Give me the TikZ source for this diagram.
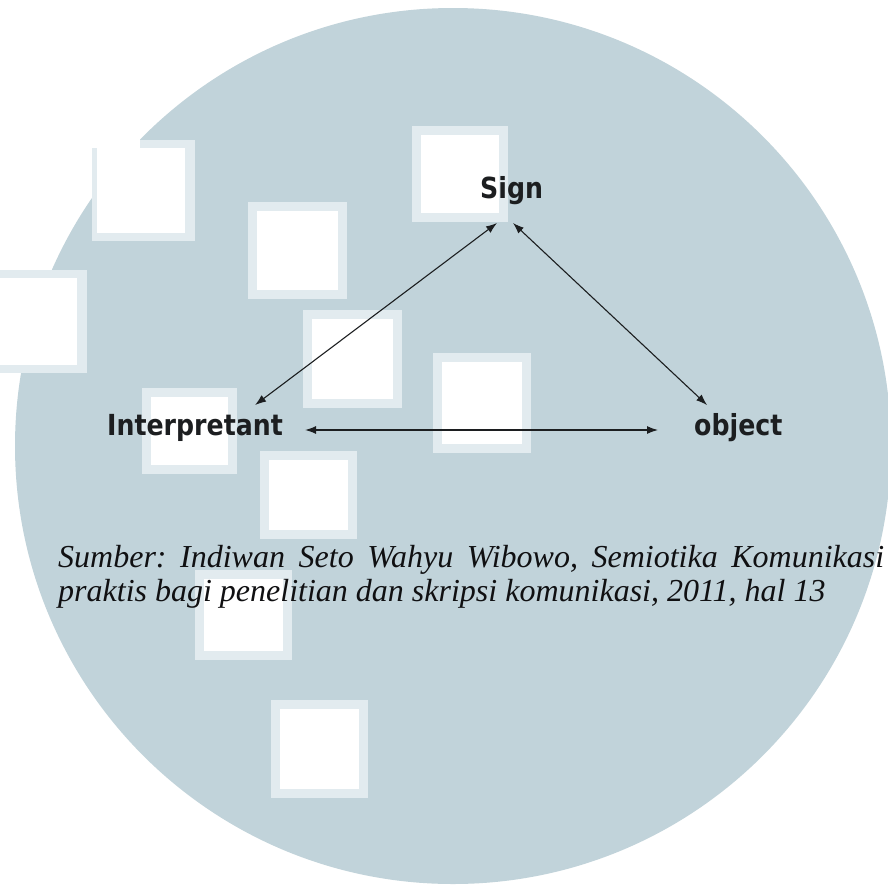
\documentclass[tikz,border=0pt]{standalone}
\usepackage{fontspec}
\usetikzlibrary{arrows.meta,calc}
\newfontfamily\lblfont{DejaVu Sans}
\newfontfamily\capfont{Liberation Serif}
\definecolor{disc}{RGB}{193,211,218}
\definecolor{halo}{RGB}{226,235,239}
\definecolor{ink}{RGB}{28,30,32}
\definecolor{captionink}{RGB}{16,16,18}
% white tile with a pale border on the disc
\newcommand\wtile[4]{%
  \fill[halo] (#1,#2) rectangle (#3,#4);
  \fill[white] (#1+9,#2+9) rectangle (#3-9,#4-9);}
\tikzset{
  term/.style={anchor=base west, inner sep=0pt, text=ink,
    font=\lblfont\bfseries\fontsize{29}{34}\selectfont},
  srcline/.style={anchor=base west, inner sep=0pt, text=captionink,
    font=\capfont\itshape\fontsize{32}{34}\selectfont\frenchspacing},
  link/.style={{Latex[length=11pt,width=8pt]}-{Latex[length=11pt,width=8pt]},
    line width=1.1pt, draw=ink}
}
\begin{document}
\begin{tikzpicture}[x=1pt,y=-1pt]
\useasboundingbox (0,0) rectangle (888,884);
\fill[white] (0,0) rectangle (888,884);
% background disc
\fill[disc] (453,446) circle[radius=438];
% scattered tiles
\wtile{412}{126}{508}{222}
\wtile{248}{202}{347}{299}
\wtile{303}{310}{402}{408}
\wtile{433}{353}{531}{453}
\wtile{142}{388}{237}{474}
\wtile{260}{451}{357}{539}
\wtile{195}{570}{292}{660}
\wtile{271}{700}{368}{798}
% tiles cutting into the rim
\fill[halo] (92,140) rectangle (195,241);
\fill[white] (97,148) rectangle (185,233);
\fill[white] (60,100) rectangle (140,148);
\fill[halo] (-5,270) rectangle (87,373);
\fill[white] (-5,278) rectangle (77,365);
% triangle of terms
\node[term] (sign) at (480,198) {\scalebox{0.87}[1]{Sign}};
\node[term] (interp) at (107,435) {\scalebox{0.87}[1]{Interpretant}};
\node[term] (object) at (694,435) {\scalebox{0.87}[1]{object}};
\draw[link] ($(sign.base west)+(17,25)$) -- ($(interp.base east)+(-28,-30)$);
\draw[link] ($(sign.base west)+(33,25)$) -- ($(object.base west)+(13,-30)$);
\draw[link] ($(interp.base east)+(22,-5)$) -- ($(object.base west)+(-36,-5)$);
% source note
\node[srcline] (src1) at (58,567) {\makebox[826pt][s]{Sumber: Indiwan Seto Wahyu Wibowo, Semiotika Komunikasi}};
\node[srcline] (src2) at (58,601) {praktis bagi penelitian dan skripsi komunikasi, 2011, hal 13};
\end{tikzpicture}
\end{document}
